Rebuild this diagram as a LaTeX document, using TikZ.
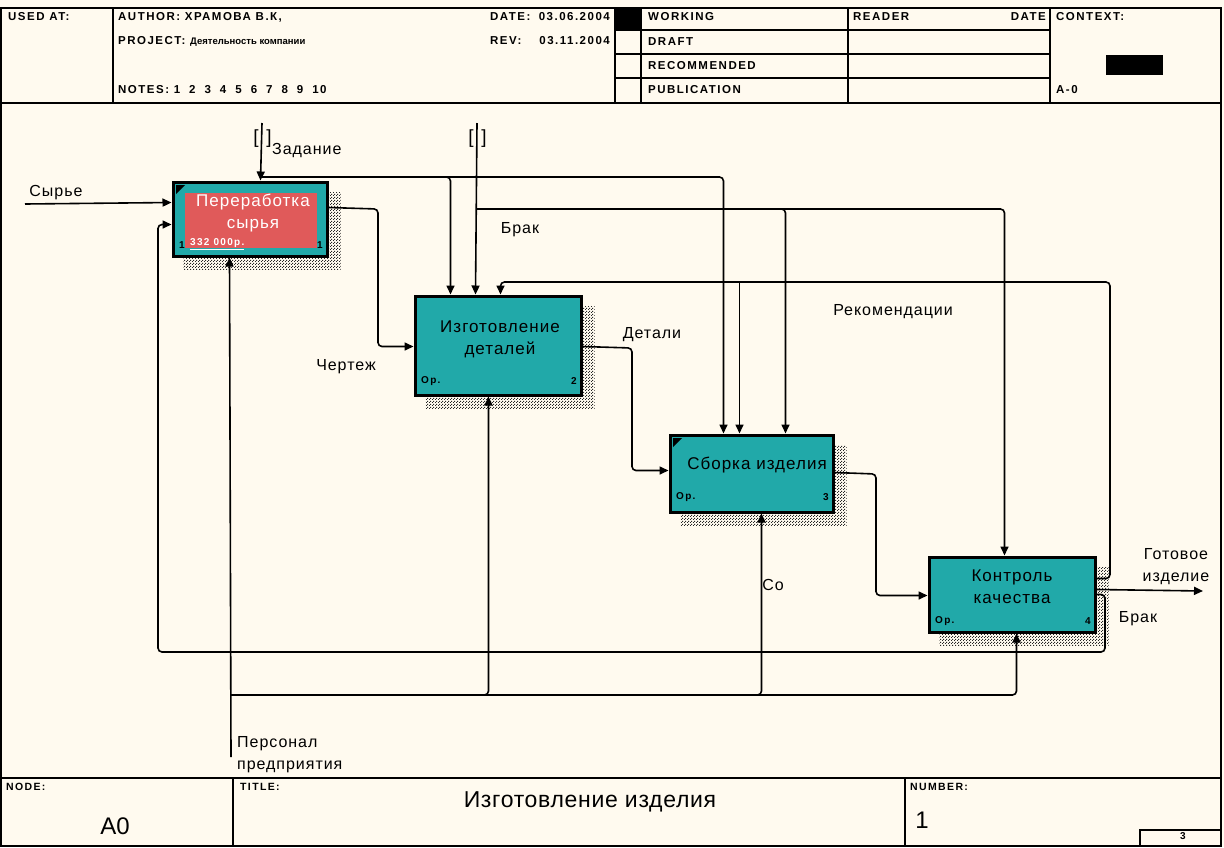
\documentclass[tikz,border=0pt]{standalone}
\usepackage{fontspec}
\setmainfont{Liberation Sans}
\newfontfamily\hdrfont{Liberation Sans}[LetterSpace=13]
\newfontfamily\lblfont{Liberation Sans}[LetterSpace=6]
\usetikzlibrary{arrows.meta,patterns,calc}
\definecolor{paper}{HTML}{FFFAEF}
\definecolor{ideftealc}{HTML}{21A9A9}
\definecolor{idefredc}{HTML}{E05A5A}
\pgfdeclarepatternformonly{idefhatch}{\pgfpointorigin}{\pgfpoint{3pt}{3pt}}{\pgfpoint{3pt}{3pt}}{%
  \pgfpathrectangle{\pgfpoint{0pt}{0pt}}{\pgfpoint{1.2pt}{1.2pt}}%
  \pgfpathrectangle{\pgfpoint{1.5pt}{1.5pt}}{\pgfpoint{1.2pt}{1.2pt}}%
  \pgfusepath{fill}}
\pgfdeclarelayer{bgl}\pgfdeclarelayer{shadel}
\pgfsetlayers{bgl,shadel,main}
\tikzset{
  frame/.style={line width=1.4pt},
  hdr/.style={inner sep=0pt, font=\hdrfont\bfseries\fontsize{11.5}{13}\selectfont},
  hdrs/.style={inner sep=0pt, font=\hdrfont\bfseries\fontsize{10.5}{12}\selectfont},
  lbl/.style={inner sep=0pt, font=\lblfont\fontsize{16}{22}\selectfont, align=center},
  box/.style={draw=black, line width=3pt, fill=ideftealc, inner sep=0pt},
  boxtxt/.style={inner sep=0pt, align=center, font=\lblfont\fontsize{17}{22}\selectfont},
  tiny/.style={inner sep=0pt, font=\hdrfont\bfseries\fontsize{10}{11}\selectfont},
  shadow/.style={pattern=idefhatch, pattern color=black!85},
  conn/.style={line width=1.6pt, rounded corners=4pt},
  flow/.style={conn, -{Triangle[length=9pt,width=8pt]}},
  tunnel/.style={inner sep=0pt, font=\fontsize{19}{20}\selectfont}
}
\begin{document}
\begin{tikzpicture}[x=1pt,y=-1pt]
\begin{pgfonlayer}{bgl}
\fill[paper] (0,0) rectangle (1224,847);
\end{pgfonlayer}
\useasboundingbox (0,0) rectangle (1224,847);

% ---------- frame ----------
\draw[frame] (1,8) rectangle (1221,846);
\draw[frame] (1,103) -- (1221,103);
\draw[frame] (113,8) -- (113,103);
\draw[frame] (615,8) -- (615,103);
\draw[frame] (641,8) -- (641,103);
\draw[frame] (848,8) -- (848,103);
\draw[frame] (1050,8) -- (1050,103);
\draw[frame] (615,30) -- (1050,30);
\draw[frame] (615,54) -- (1050,54);
\draw[frame] (615,78) -- (1050,78);
\fill (615,8) rectangle (641,30);
\fill (1106,55) rectangle (1163,75);
\draw[frame] (1,778) -- (1221,778);
\draw[frame] (233,778) -- (233,846);
\draw[frame] (905,778) -- (905,846);
\draw[frame] (1140,830) rectangle (1221,846);

% ---------- header texts ----------
\node[hdr, anchor=west] (usedat) at (8,17) {USED AT:};
\node[hdr, anchor=west] (author) at (118,17) {AUTHOR: ХРАМОВА В.К,};
\node[hdr, anchor=west] (project) at (118,41) {PROJECT: {\fontspec{Liberation Sans}[LetterSpace=0]\bfseries\fontsize{9.5}{10}\selectfont Деятельность компании}};
\node[hdr, anchor=west] (notes) at (118,90) {NOTES: 1\hspace{9pt}2\hspace{9pt}3\hspace{9pt}4\hspace{9pt}5\hspace{9pt}6\hspace{9pt}7\hspace{9pt}8\hspace{9pt}9\hspace{9pt}10};
\node[hdr, anchor=west] (datel) at (490,17) {DATE:};
\node[hdr, anchor=east] (datev) at (610,17) {03.06.2004};
\node[hdr, anchor=west] (revl) at (490,41) {REV:};
\node[hdr, anchor=east] (revv) at (610,41) {03.11.2004};
\node[hdr, anchor=west] (working) at (648,17) {WORKING};
\node[hdr, anchor=west] (draft) at (648,42) {DRAFT};
\node[hdr, anchor=west] (recom) at (648,66) {RECOMMENDED};
\node[hdr, anchor=west] (public) at (648,90) {PUBLICATION};
\node[hdr, anchor=west] (reader) at (853,17) {READER};
\node[hdr, anchor=east] (rdate) at (1046,17) {DATE};
\node[hdr, anchor=west] (context) at (1056,17) {CONTEXT:};
\node[hdr, anchor=west] (ctxnode) at (1056,90) {A-0};

% ---------- footer texts ----------
\node[hdrs, anchor=west] (nodel) at (6,787) {NODE:};
\node[hdrs, anchor=west] (titlel) at (240,787) {TITLE:};
\node[hdrs, anchor=west] (numl) at (910,787) {NUMBER:};
\node[inner sep=0pt, font=\fontsize{24}{26}\selectfont] (nodev) at (115,826) {A0};
\node[inner sep=0pt, font=\addfontfeature{LetterSpace=3}\fontsize{23}{26}\selectfont] (titlev) at (590,802) {Изготовление изделия};
\node[inner sep=0pt, font=\fontsize{24}{26}\selectfont] (numv) at (922,820) {1};
\node[tiny] (pagev) at (1183,836) {3};

% ---------- boxes ----------
\node[box, minimum width=154pt, minimum height=74pt] (b1) at (250,219) {};
\node[box, minimum width=166pt, minimum height=99pt] (b2) at (498,345.5) {};
\node[box, minimum width=163pt, minimum height=77pt] (b3) at (751.5,473.5) {};
\node[box, minimum width=166pt, minimum height=75pt] (b4) at (1012,594.5) {};

\begin{pgfonlayer}{shadel}
\foreach \b in {b1,b2,b3,b4}{
  \fill[shadow] ($(\b.north west)+(12,12)$) rectangle ($(\b.south east)+(12,12)$);
}
\end{pgfonlayer}

\fill[idefredc] (185,193) rectangle (317,248);
\fill (176,185) -- (185,185) -- (176,194) -- cycle;
\fill (673,438) -- (682,438) -- (673,447) -- cycle;

\node[boxtxt, text=white] (b1t) at (253,213) {Переработка\\сырья};
\node[boxtxt] (b2t) at (500,339) {Изготовление\\деталей};
\node[boxtxt] (b3t) at (757,465) {Сборка изделия};
\node[boxtxt] (b4t) at (1012,587) {Контроль\\качества};

\node[tiny, anchor=west] (b1n) at (179,245) {1};
\node[tiny, anchor=west, text=white] (b1c) at (190,244) {\underline{332 000р.}};
\node[tiny, anchor=east] (b1m) at (323,245) {1};
\node[tiny, anchor=west] (b2o) at (421,381) {Ор.};
\node[tiny, anchor=east] (b2n) at (577,381) {2};
\node[tiny, anchor=west] (b3o) at (676,497) {Ор.};
\node[tiny, anchor=east] (b3n) at (829,497) {3};
\node[tiny, anchor=west] (b4o) at (935,621) {Ор.};
\node[tiny, anchor=east] (b4n) at (1091,621) {4};

% ---------- ports ----------
\coordinate (b1in1) at ($(b1.north west)+(0,22)$);
\coordinate (b1in2) at ($(b1.north west)+(0,44)$);
\coordinate (b1ctl) at ($(b1.north west)+(89,0)$);
\coordinate (b1out) at ($(b1.north east)+(0,27)$);
\coordinate (b1mec) at ($(b1.south west)+(58,0)$);
\coordinate (b2c1) at ($(b2.north west)+(37,0)$);
\coordinate (b2c2) at ($(b2.north west)+(62,0)$);
\coordinate (b2c3) at ($(b2.north west)+(87,0)$);
\coordinate (b2in) at ($(b2.north west)+(0,52)$);
\coordinate (b2out) at ($(b2.north east)+(0,52)$);
\coordinate (b2mec) at ($(b2.south west)+(75,0)$);
\coordinate (b3c1) at ($(b3.north west)+(55,0)$);
\coordinate (b3c2) at ($(b3.north west)+(71,0)$);
\coordinate (b3c3) at ($(b3.north west)+(117,0)$);
\coordinate (b3in) at ($(b3.north west)+(0,37)$);
\coordinate (b3out) at ($(b3.north east)+(0,39)$);
\coordinate (b3mec) at ($(b3.south west)+(93,0)$);
\coordinate (b4c1) at ($(b4.north west)+(77,0)$);
\coordinate (b4in) at ($(b4.north west)+(0,40)$);
\coordinate (b4o1) at ($(b4.north east)+(0,23)$);
\coordinate (b4o2) at ($(b4.north east)+(0,34)$);
\coordinate (b4o3) at ($(b4.north east)+(0,39)$);
\coordinate (b4mec) at ($(b4.south west)+(89,0)$);

% ---------- free ends / bends ----------
\coordinate (srcIn) at (25,204);
\coordinate (t1top) at (262,123);
\coordinate (t2top) at (477,123);
\coordinate (j1) at (262,177);
\coordinate (j2) at (477,209);
\coordinate (rkR) at (1110,282);
\coordinate (brR) at (1105,652);
\coordinate (brL) at (158,652);
\coordinate (outEnd) at (1203,591);
\coordinate (j3) at (231,695);
\coordinate (persEnd) at (231,757);
\coordinate (k1) at (378,209);
\coordinate (k2) at (632,348);
\coordinate (k3) at (876,474);

% ---------- connectors ----------
\draw[flow] (srcIn) -- (b1in1);
\draw[flow] (t1top) -- (b1ctl);
\draw[flow] (j1) -| (b2c1);
\draw[flow] (j1) -| (b3c1);
\draw[flow] (t2top) -- (b2c2);
\draw[flow] (j2) -| (b3c3);
\draw[flow] (j2) -| (b4c1);
\draw[flow] (b4o1) -- (b4o1 -| rkR) -- (rkR) -| (b2c3);
\draw[flow] (b3c2 |- rkR) -- (b3c2);
\draw[flow] (b4o2) -- (outEnd);
\draw[flow] (b4o3) -- (b4o3 -| brR) -- (brR) -- (brL) -- (brL |- b1in2) -- (b1in2);
\draw[flow] (b1out) -- (k1) |- (b2in);
\draw[flow] (b2out) -- (k2) |- (b3in);
\draw[flow] (b3out) -- (k3) |- (b4in);
\draw[flow] (persEnd) -- (b1mec);
\draw[flow] (j3) -| (b2mec);
\draw[flow] (j3) -| (b3mec);
\draw[flow] (j3) -| (b4mec);

% ---------- tunnels ----------
\node[tunnel] (t1l) at (256,139) {[};
\node[tunnel] (t1r) at (269,139) {]};
\node[tunnel] (t2l) at (471,139) {[};
\node[tunnel] (t2r) at (484,139) {]};

% ---------- labels ----------
\node[lbl] (lsyr) at (56,193) {Сырье};
\node[lbl, anchor=west] (lzad) at (272,151) {Задание};
\node[lbl] (lbr1) at (520,230) {Брак};
\node[lbl] (lcher) at (346,367) {Чертеж};
\node[lbl] (ldet) at (652,335) {Детали};
\node[lbl] (lrek) at (893,312) {Рекомендации};
\node[lbl] (lco) at (773,585) {Со};
\node[lbl] (lgot) at (1176,567) {Готовое\\изделие};
\node[lbl] (lbr2) at (1138,619) {Брак};
\node[lbl, anchor=north west, align=left] (lper) at (237,736) {Персонал\\предприятия};
\end{tikzpicture}
\end{document}
